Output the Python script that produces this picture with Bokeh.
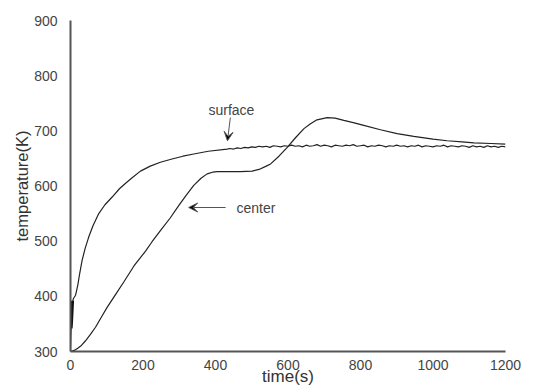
from bokeh.plotting import figure
from bokeh.models import Range1d, FixedTicker, Arrow, VeeHead, Label
from bokeh.embed import file_html
from bokeh.resources import INLINE

# ---- data ----
surface_t = [0, 1, 2, 3, 5, 8, 14, 20, 25, 32, 40, 50, 62, 78, 95, 115, 135, 152, 170, 193, 220, 248,
             280, 310, 340, 380, 432,
             440, 450, 460, 470, 480, 490, 500, 510, 520, 530, 540, 550, 560, 570, 580, 590,
             600, 610, 620, 630, 640, 650, 660, 670, 680, 690, 700, 710, 720, 730, 740, 750,
             760, 770, 780, 790, 800, 810, 820, 830, 840, 850, 860, 870, 880, 890, 900, 910,
             920, 930, 940, 950, 960, 970, 980, 990, 1000, 1010, 1020, 1030, 1040, 1050, 1060,
             1070, 1080, 1090, 1100, 1110, 1120, 1130, 1140, 1150, 1160, 1170, 1180, 1190, 1200]
surface_T = [300, 330, 345, 362, 388, 396, 402, 420, 440, 465, 486, 507, 528, 550, 566, 580, 595, 605, 615, 627, 636, 643,
             649, 654, 658, 663, 667,
             668, 667, 669, 668, 670, 669, 671, 670, 672, 671, 672, 670, 673, 672, 671, 673,
             672, 674, 672, 673, 671, 674, 672, 673, 675, 672, 674, 673, 671, 674, 673, 672,
             674, 673, 675, 672, 673, 674, 671, 673, 672, 674, 673, 671, 673, 672, 674, 672,
             673, 671, 673, 672, 674, 671, 673, 672, 671, 673, 672, 674, 671, 673, 672,
             671, 673, 672, 670, 673, 671, 672, 670, 673, 671, 672, 670, 672, 671]
surface_blob_t = [1, 2, 3, 4, 5]
surface_blob_T = [342, 352, 365, 378, 392]

center_t = [0, 10, 20, 30, 41, 55, 69, 85, 101, 125, 147, 175, 207, 225, 248, 275, 299, 320, 340, 360,
            377, 392, 405, 430, 469, 501, 520, 540, 552, 575, 598, 620, 644, 662, 680, 708, 730,
            754, 780, 809, 855, 901, 947, 1000, 1039, 1080, 1113, 1160, 1200]
center_T = [300, 302, 306, 311, 319, 331, 344, 362, 380, 404, 426, 455, 482, 499, 519, 542, 565, 584, 601, 614,
            622, 625, 626, 626, 626, 627, 630, 636, 640, 654, 670, 687, 704, 713, 720, 724, 723,
            719, 715, 710, 702, 695, 690, 685, 682, 680, 678, 677, 676]

x_ticks = [0, 200, 400, 600, 800, 1000, 1200]
y_ticks = [300, 400, 500, 600, 700, 800, 900]

ink = "#222222"
text_col = "#444444"
font = "Liberation Sans"

p = figure(width=554, height=388, output_backend="svg", toolbar_location=None,
           x_range=Range1d(0, 1200), y_range=Range1d(300, 900),
           min_border_left=70, min_border_right=49, min_border_top=20, min_border_bottom=37)

p.outline_line_color = None
p.grid.grid_line_color = None
p.background_fill_color = "white"

for ax in (p.xaxis[0], p.yaxis[0]):
    ax.major_tick_line_color = None
    ax.minor_tick_line_color = None
    ax.axis_line_color = "#555555"
    ax.axis_line_width = 2
    ax.major_label_text_font = font
    ax.major_label_text_font_size = "14px"
    ax.major_label_text_color = text_col
    ax.axis_label_text_font = font
    ax.axis_label_text_font_style = "normal"
    ax.axis_label_text_color = "#333333"

p.xaxis.ticker = FixedTicker(ticks=x_ticks)
p.yaxis.ticker = FixedTicker(ticks=y_ticks)
p.xaxis.major_label_standoff = 2
p.yaxis.major_label_standoff = 7
p.xaxis.axis_label = "time(s)"
p.yaxis.axis_label = "temperature(K)"
p.xaxis.axis_label_text_font_size = "17px"
p.yaxis.axis_label_text_font_size = "16.5px"
p.xaxis.axis_label_standoff = -6
p.yaxis.axis_label_standoff = 0

p.line(surface_t, surface_T, line_color=ink, line_width=1.2)
p.line(surface_blob_t, surface_blob_T, line_color="#111111", line_width=3.5)
p.line(center_t, center_T, line_color=ink, line_width=1.2)

# annotations
p.add_layout(Label(x=444, y=737, text="surface", text_align="center", text_baseline="middle",
                   text_font=font, text_font_size="14px", text_color=text_col))
p.add_layout(Arrow(x_start=441, y_start=724, x_end=433, y_end=682, line_color="#555555", line_width=1,
                   end=VeeHead(size=9, line_color="#555555", line_width=1)))
p.add_layout(Label(x=458, y=561, text="center", text_align="left", text_baseline="middle",
                   text_font=font, text_font_size="14px", text_color=text_col))
p.add_layout(Arrow(x_start=428, y_start=561, x_end=326, y_end=561, line_color="#555555", line_width=1,
                   end=VeeHead(size=9, line_color="#555555", line_width=1)))
p.add_layout(Label(x=1233, y=677, text="688K", text_align="left", text_baseline="middle",
                   text_font=font, text_font_size="14px", text_color=text_col))

open("out.html", "w").write(file_html(p, INLINE))
